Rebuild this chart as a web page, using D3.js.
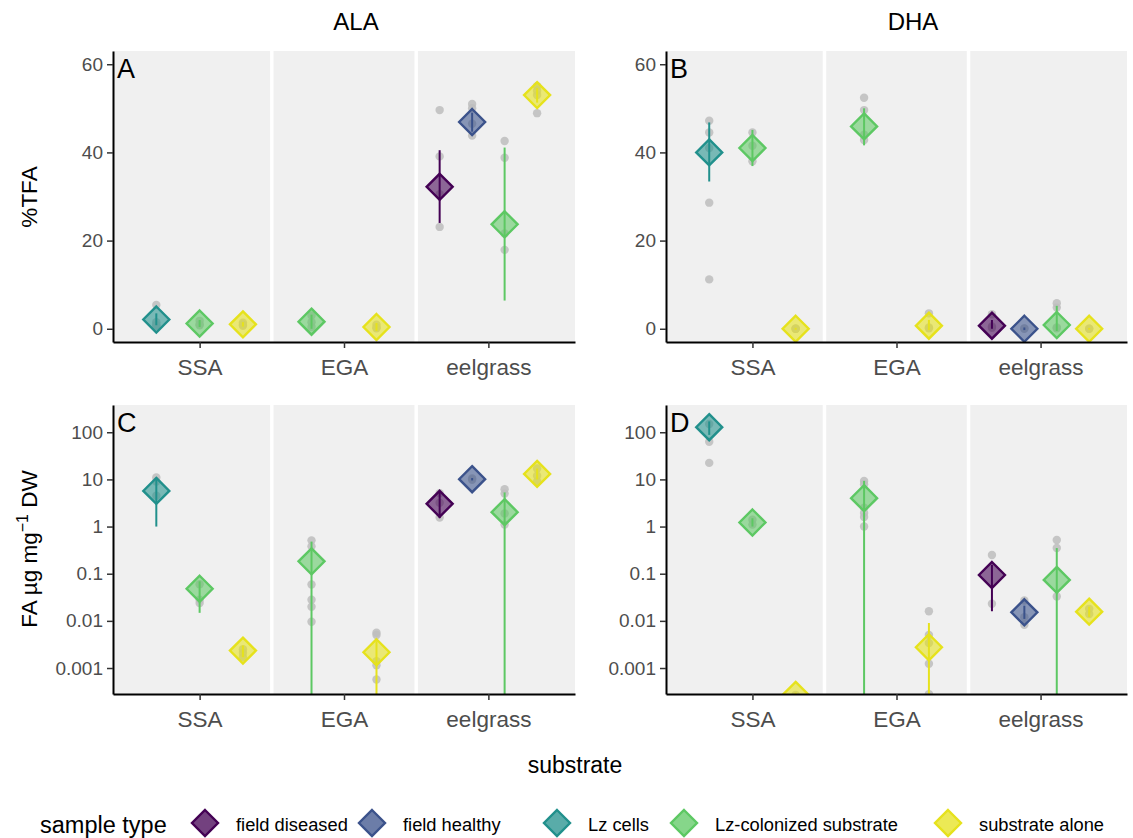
<!DOCTYPE html>
<html>
<head>
<meta charset="utf-8">
<script src="https://cdn.jsdelivr.net/npm/d3@7"></script>
<style>
	body { margin: 0; background: white; }
	svg { font-family: "Liberation Sans", Arial, sans-serif; }
</style>
</head>
<body>
<div id="chart"></div>
<script>
const substrates = ['SSA', 'EGA', 'eelgrass']
const sampleTypes = ['field diseased', 'field healthy', 'Lz cells', 'Lz-colonized substrate', 'substrate alone']
const typeColors = ['#440154', '#3B528B', '#21908C', '#5DC863', '#E6E21C']
const pctTicks = [0, 20, 40, 60]
const logTicks = [0.001, 0.01, 0.1, 1, 10, 100]
const logTickLabels = ['0.001', '0.01', '0.1', '1', '10', '100']

// substrate, sample type, mean, lower, upper (null = below the axis)
const alaPctSummary = [
	['SSA', 'Lz cells', 2.1, 0.8, 3.5],
	['SSA', 'Lz-colonized substrate', 1.2, 0.4, 2.0],
	['SSA', 'substrate alone', 1.0, 0.5, 1.5],
	['EGA', 'Lz-colonized substrate', 1.6, 0.0, 3.2],
	['EGA', 'substrate alone', 0.4, -0.5, 1.3],
	['eelgrass', 'field diseased', 32.2, 24.0, 40.5],
	['eelgrass', 'field healthy', 46.9, 44.7, 49.0],
	['eelgrass', 'Lz-colonized substrate', 23.7, 6.4, 41.1],
	['eelgrass', 'substrate alone', 53.0, 51.3, 54.6]
]
const alaPctPoints = [
	['SSA', 'Lz cells', [5.4, 1.5, 0.8, 0.7]],
	['SSA', 'Lz-colonized substrate', [1.8, 1.0, 0.8]],
	['SSA', 'substrate alone', [1.4, 0.9, 0.7]],
	['EGA', 'Lz-colonized substrate', [3.0, 1.5, 0.4]],
	['EGA', 'substrate alone', [0.9, 0.3, 0.1]],
	['eelgrass', 'field diseased', [49.6, 39.1, 30.5, 23.1]],
	['eelgrass', 'field healthy', [51.0, 50.0, 46.5, 43.8]],
	['eelgrass', 'Lz-colonized substrate', [42.6, 38.8, 21.6, 17.9]],
	['eelgrass', 'substrate alone', [55.0, 54.0, 53.0, 48.9]]
]

const dhaPctSummary = [
	['SSA', 'Lz cells', 40.0, 33.4, 46.8],
	['SSA', 'Lz-colonized substrate', 41.0, 36.9, 45.1],
	['SSA', 'substrate alone', 0.0, -0.2, 0.2],
	['EGA', 'Lz-colonized substrate', 45.9, 41.6, 50.0],
	['EGA', 'substrate alone', 0.7, -0.3, 2.0],
	['eelgrass', 'field diseased', 0.7, 0.0, 2.0],
	['eelgrass', 'field healthy', 0.0, -0.3, 0.3],
	['eelgrass', 'Lz-colonized substrate', 0.85, -0.5, 5.2],
	['eelgrass', 'substrate alone', 0.0, -0.2, 0.2]
]
const dhaPctPoints = [
	['SSA', 'Lz cells', [47.2, 44.5, 41.0, 28.6, 11.2]],
	['SSA', 'Lz-colonized substrate', [44.5, 41.5, 38.0]],
	['SSA', 'substrate alone', [0.0, 0.0, 0.0]],
	['EGA', 'Lz-colonized substrate', [52.4, 49.6, 44.0, 42.8]],
	['EGA', 'substrate alone', [3.5, 0.3, 0.1]],
	['eelgrass', 'field diseased', [3.3, 0.5, 0.2]],
	['eelgrass', 'field healthy', [0.1, 0.0]],
	['eelgrass', 'Lz-colonized substrate', [5.8, 4.8, 0.3, 0.1]],
	['eelgrass', 'substrate alone', [0.0, 0.0]]
]

const alaAbsSummary = [
	['SSA', 'Lz cells', 5.7, 1.0, 9.8],
	['SSA', 'Lz-colonized substrate', 0.048, 0.0148, 0.069],
	['SSA', 'substrate alone', 0.00234, 0.0017, 0.003],
	['EGA', 'Lz-colonized substrate', 0.183, null, 0.48],
	['EGA', 'substrate alone', 0.00216, null, 0.0037],
	['eelgrass', 'field diseased', 3.04, 1.51, 5.5],
	['eelgrass', 'field healthy', 10.1, 9.5, 10.7],
	['eelgrass', 'Lz-colonized substrate', 2.02, null, 5.3],
	['eelgrass', 'substrate alone', 13.1, 10, 17]
]
const alaAbsPoints = [
	['SSA', 'Lz cells', [11.0, 9.0, 4.5]],
	['SSA', 'Lz-colonized substrate', [0.06, 0.028, 0.024]],
	['SSA', 'substrate alone', [0.0025, 0.0021, 0.0017]],
	['EGA', 'Lz-colonized substrate', [0.51, 0.38, 0.059, 0.028, 0.020, 0.0096]],
	['EGA', 'substrate alone', [0.0056, 0.0050, 0.0014, 0.00115, 0.00057]],
	['eelgrass', 'field diseased', [5.1, 3.2, 1.55]],
	['eelgrass', 'field healthy', [10.5, 9.8]],
	['eelgrass', 'Lz-colonized substrate', [6.2, 5.0, 1.9, 1.1]],
	['eelgrass', 'substrate alone', [17, 12, 9]]
]

const dhaAbsSummary = [
	['SSA', 'Lz cells', 128, 88, 170],
	['SSA', 'Lz-colonized substrate', 1.22, 1.0, 1.5],
	['SSA', 'substrate alone', 0.00027, null, 0.0003],
	['EGA', 'Lz-colonized substrate', 4.0, null, 9.3],
	['EGA', 'substrate alone', 0.00276, null, 0.009],
	['eelgrass', 'field diseased', 0.094, 0.016, 0.155],
	['eelgrass', 'field healthy', 0.0152, 0.011, 0.021],
	['eelgrass', 'Lz-colonized substrate', 0.074, null, 0.35],
	['eelgrass', 'substrate alone', 0.0157, 0.012, 0.02]
]
const dhaAbsPoints = [
	['SSA', 'Lz cells', [150, 63, 22.4]],
	['SSA', 'Lz-colonized substrate', [1.4, 1.1]],
	['SSA', 'substrate alone', [0.00027]],
	['EGA', 'Lz-colonized substrate', [9.3, 7.9, 2.5, 1.95, 1.6, 1.0]],
	['EGA', 'substrate alone', [0.016, 0.005, 0.0034, 0.00123, 0.00028]],
	['eelgrass', 'field diseased', [0.25, 0.023]],
	['eelgrass', 'field healthy', [0.027, 0.0083, 0.012]],
	['eelgrass', 'Lz-colonized substrate', [0.52, 0.35, 0.033]],
	['eelgrass', 'substrate alone', [0.018, 0.014]]
]

const W = 1133, H = 838
const svg = d3.select('#chart').append('svg').attr('width', W).attr('height', H)
const color = d3.scaleOrdinal().domain(sampleTypes).range(typeColors)

const panels = [
	{ tag: 'A', summary: alaPctSummary, points: alaPctPoints, log: false, x0: 113, x1: 575, y0: 51, y1: 342 },
	{ tag: 'B', summary: dhaPctSummary, points: dhaPctPoints, log: false, x0: 666, x1: 1127, y0: 51, y1: 342 },
	{ tag: 'C', summary: alaAbsSummary, points: alaAbsPoints, log: true, x0: 113, x1: 575, y0: 405, y1: 694 },
	{ tag: 'D', summary: dhaAbsSummary, points: dhaAbsPoints, log: true, x0: 666, x1: 1127, y0: 405, y1: 694 }
]

// dodge position of a sample type inside its substrate
function dodge(summary, sub, type) {
	const present = summary.filter(d => d[0] == sub).map(d => d[1])
	const n = present.length
	const i = present.indexOf(type)
	return substrates.indexOf(sub) + 1 + (i - (n - 1) / 2) * 0.9 / n
}

function diamond(g, cx, cy, r, fill, fillOp) {
	g.append('path')
		.attr('d', `M${cx},${cy - r}L${cx + r},${cy}L${cx},${cy + r}L${cx - r},${cy}Z`)
		.attr('fill', fill)
		.attr('fill-opacity', fillOp)
		.attr('stroke', fill)
		.attr('stroke-width', 2.4)
}

panels.forEach(function(p) {
	const x = d3.scaleLinear().domain([0.4, 3.6]).range([p.x0, p.x1])
	let y
	if (p.log) {
		y = d3.scaleLog().domain([Math.pow(10, -3.551), Math.pow(10, 2.578)]).range([p.y1, p.y0])
	} else {
		y = d3.scaleLinear().domain([-3.0, 63.0]).range([p.y1, p.y0])
	}
	const g = svg.append('g')

	g.append('rect')
		.attr('x', p.x0).attr('y', p.y0)
		.attr('width', p.x1 - p.x0).attr('height', p.y1 - p.y0)
		.attr('fill', '#F0F0F0')

	for (let k = 1.5; k < 3; k++) {
		g.append('line')
			.attr('x1', x(k)).attr('x2', x(k))
			.attr('y1', p.y0).attr('y2', p.y1)
			.attr('stroke', 'white').attr('stroke-width', 3.5)
	}

	const clipId = 'clip' + p.tag
	svg.append('clipPath').attr('id', clipId)
		.append('rect')
		.attr('x', p.x0).attr('y', p.y0)
		.attr('width', p.x1 - p.x0).attr('height', p.y1 - p.y0)
	const inner = g.append('g').attr('clip-path', `url(#${clipId})`)

	// raw points
	p.points.forEach(function(row) {
		const cx = x(dodge(p.summary, row[0], row[1]))
		row[2].forEach(function(v) {
			inner.append('circle')
				.attr('cx', cx).attr('cy', y(v))
				.attr('r', 4.2)
				.attr('fill', '#BDBDBD')
				.attr('fill-opacity', 0.85)
		})
	})

	// error bars then means
	p.summary.forEach(function(row) {
		const cx = x(dodge(p.summary, row[0], row[1]))
		const lo = row[3] == null ? p.y1 + 5 : y(row[3])
		inner.append('line')
			.attr('x1', cx).attr('x2', cx)
			.attr('y1', lo).attr('y2', y(row[4]))
			.attr('stroke', color(row[1]))
			.attr('stroke-width', 2)
		diamond(inner, cx, y(row[2]), 13, color(row[1]), 0.58)
	})

	// axes
	const yAxis = p.log
		? d3.axisLeft(y).tickValues(logTicks).tickFormat((d, i) => logTickLabels[i])
		: d3.axisLeft(y).tickValues(pctTicks).tickFormat(d3.format('d'))
	const ya = g.append('g')
		.attr('transform', `translate(${p.x0},0)`)
		.call(yAxis.tickSize(6).tickSizeOuter(0).tickPadding(4))
	const xa = g.append('g')
		.attr('transform', `translate(0,${p.y1})`)
		.call(d3.axisBottom(x).tickValues([1, 2, 3]).tickFormat(d => substrates[d - 1])
			.tickSize(6).tickSizeOuter(0).tickPadding(11))
	;[ya, xa].forEach(function(a) {
		a.select('.domain').attr('stroke', 'black').attr('stroke-width', 2)
		a.selectAll('.tick line').attr('stroke', '#333').attr('stroke-width', 1.5)
		a.selectAll('.tick text').attr('fill', '#4D4D4D')
			.style('font-family', '"Liberation Sans", Arial, sans-serif')
	})
	ya.selectAll('.tick text').style('font-size', '19px')
	xa.selectAll('.tick text').style('font-size', '22.5px')

	g.append('text')
		.attr('x', p.x0 + 4).attr('y', p.y0 + 27)
		.attr('font-size', 27)
		.attr('fill', 'black')
		.text(p.tag)
})

// column titles
svg.append('text').attr('x', 356).attr('y', 30).attr('text-anchor', 'middle')
	.attr('font-size', 24).text('ALA')
svg.append('text').attr('x', 913).attr('y', 30).attr('text-anchor', 'middle')
	.attr('font-size', 24).text('DHA')

// axis titles
svg.append('text')
	.attr('transform', 'translate(37,197) rotate(-90)')
	.attr('text-anchor', 'middle')
	.attr('font-size', 22.5)
	.text('%TFA')
const fa = svg.append('text')
	.attr('transform', 'translate(37,549) rotate(-90)')
	.attr('text-anchor', 'middle')
	.attr('font-size', 22.5)
fa.append('tspan').text('FA \u00b5g mg')
fa.append('tspan').attr('dy', -9).attr('font-size', 16).text('\u22121')
fa.append('tspan').attr('dy', 9).text(' DW')

svg.append('text').attr('x', 575).attr('y', 773).attr('text-anchor', 'middle')
	.attr('font-size', 23).text('substrate')

// legend
const legendX = [205, 372, 557, 684, 948]
svg.append('text').attr('x', 40).attr('y', 833).attr('font-size', 23.5).text('sample type')
sampleTypes.forEach(function(t, i) {
	diamond(svg, legendX[i], 823, 13, color(t), 0.75)
	svg.append('text')
		.attr('x', legendX[i] + 31).attr('y', 831)
		.attr('font-size', 18.3)
		.text(t)
})
</script>
</body>
</html>
